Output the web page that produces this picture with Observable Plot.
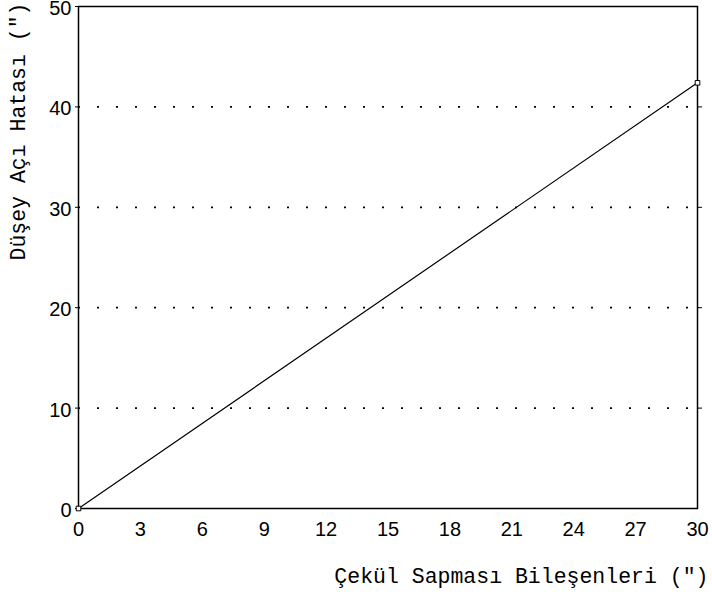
<!DOCTYPE html>
<html>
<head>
<meta charset="utf-8">
<script src="https://cdn.jsdelivr.net/npm/d3@7"></script>
<script src="https://cdn.jsdelivr.net/npm/@observablehq/plot@0.6"></script>
<style>
  html, body { margin: 0; padding: 0; background: #fff; }
  #chart svg { display: block; overflow: visible; }
</style>
</head>
<body>
<div id="chart"></div>
<script>
// Data
const xValues = [0, 30];          // Çekül sapması bileşenleri (")
const yValues = [0, 42.4];        // Düşey açı hatası (")
const xTicks = [0, 3, 6, 9, 12, 15, 18, 21, 24, 27, 30];
const yTicks = [0, 10, 20, 30, 40, 50];
const gridLevels = [10, 20, 30, 40];
const xTitle = "Çekül Sapması Bileşenleri (\")";
const yTitle = "Düşey Açı Hatası (\")";

const points = xValues.map((x, i) => ({x, y: yValues[i]}));

const tickFont = "'Liberation Sans', Arial, sans-serif";
const titleFont = "'Liberation Mono', 'Courier New', monospace";

const chart = Plot.plot({
  width: 712,
  height: 594,
  marginLeft: 78,
  marginRight: 15,
  marginTop: 6,
  marginBottom: 86,
  style: {background: "#fff", color: "#000"},
  x: {domain: [0, 30], ticks: xTicks},
  y: {domain: [0, 50], ticks: yTicks},
  marks: [
    Plot.ruleY(gridLevels, {stroke: "#000", strokeWidth: 1.7, strokeDasharray: "2,17"}),
    Plot.axisX(xTicks, {tickSize: 0, tickPadding: 13, fontSize: 20, fontFamily: tickFont, label: null}),
    Plot.axisY(yTicks, {anchor: "left", tickSize: 3, text: null, label: null}),
    Plot.axisY(yTicks, {anchor: "left", tickSize: 0, tickPadding: 7, dy: 2, fontSize: 20, fontFamily: tickFont, label: null}),
    Plot.axisY(gridLevels, {anchor: "right", tickSize: 4, text: null, label: null}),
    Plot.frame({stroke: "#000", strokeWidth: 1.5}),
    Plot.line(points, {x: "x", y: "y", stroke: "#000", strokeWidth: 1.2}),
    Plot.dot(points, {x: "x", y: "y", symbol: "square", r: 2.6, fill: "#fff", stroke: "#000", strokeWidth: 1}),
    Plot.text([xTitle], {frameAnchor: "bottom-right", textAnchor: "end", lineAnchor: "middle", dx: 11, dy: 68, fontSize: 21.5, fontFamily: titleFont, fill: "#000"}),
    Plot.text([yTitle], {frameAnchor: "top-left", textAnchor: "middle", lineAnchor: "middle", rotate: -90, dx: -60, dy: 125, fontSize: 21.5, fontFamily: titleFont, fill: "#000"})
  ]
});
document.getElementById("chart").appendChild(chart);
</script>
</body>
</html>
